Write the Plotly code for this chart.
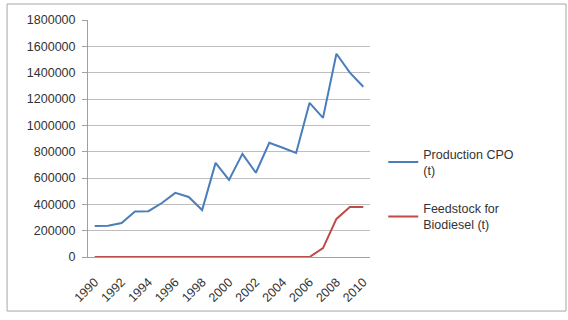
import plotly.graph_objects as go

years = list(range(1990, 2011))
production_cpo = [236000, 238000, 258000, 345000, 348000, 410000, 487000, 456000, 357000,
                  715000, 585000, 783000, 640000, 867000, 830000, 790000, 1171000, 1057000,
                  1544000, 1400000, 1293000]
feedstock_biodiesel = [0] * 16 + [0, 68000, 289000, 380000, 380000]
tick_years = list(range(1990, 2011, 2))
y_ticks = list(range(0, 1800001, 200000))

fig = go.Figure()
fig.add_trace(go.Scatter(x=years, y=production_cpo, mode="lines", name="Production CPO<br>(t)",
                         line=dict(color="#4A7EBB", width=2), legend="legend", showlegend=True))
fig.add_trace(go.Scatter(x=years, y=feedstock_biodiesel, mode="lines", name="Feedstock for<br>Biodiesel (t)",
                         line=dict(color="#BE4B48", width=2), legend="legend2", showlegend=True))

font = dict(family="Liberation Sans, Arial, sans-serif", size=12.5, color="#333333")
fig.update_layout(
    width=568, height=320,
    margin=dict(l=88, r=198, t=20, b=63),
    paper_bgcolor="white", plot_bgcolor="white",
    font=font, showlegend=True,
    xaxis=dict(range=[1989.5, 2010.5], tickvals=tick_years, tickangle=-45,
               showgrid=False, showline=True, linecolor="#A0A0A0", ticks="",
               ticklabelstandoff=12, zeroline=False, tickfont=font),
    yaxis=dict(range=[0, 1800000], tickvals=y_ticks, tickformat="d",
               showgrid=True, gridcolor="#BEBEBE", showline=True, linecolor="#A0A0A0",
               ticks="outside", ticklen=5, tickcolor="#A0A0A0", ticklabelstandoff=4,
               zeroline=False, tickfont=font),
    legend=dict(x=1.047, y=0.40, xanchor="left", yanchor="middle", bgcolor="rgba(0,0,0,0)",
                font=font, itemwidth=30),
    legend2=dict(x=1.047, y=0.17, xanchor="left", yanchor="middle", bgcolor="rgba(0,0,0,0)",
                 font=font, itemwidth=30),
    shapes=[dict(type="rect", xref="paper", yref="paper", x0=-0.287, x1=1.695, y0=-0.228, y1=1.0675,
                 line=dict(color="#A6A6A6", width=1), layer="below")],
)

fig.write_html("out.html")
